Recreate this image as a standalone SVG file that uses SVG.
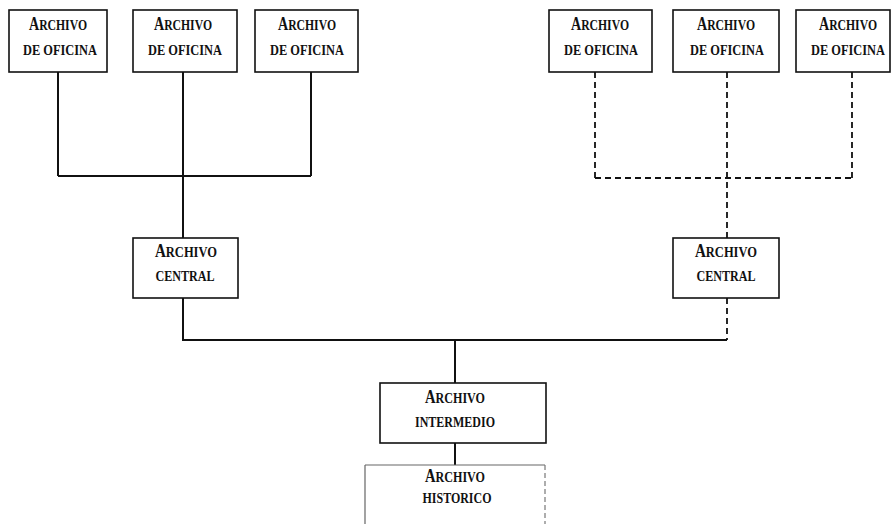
<svg xmlns="http://www.w3.org/2000/svg" width="892" height="524" viewBox="0 0 892 524">
<style>
.box{fill:#fff;stroke:#111;stroke-width:1.6}
.t{font-family:"Liberation Serif",serif;font-weight:bold;font-size:15px;fill:#111;text-anchor:middle}
.big{font-size:18px}
.ln{fill:none;stroke:#111;stroke-width:2}
.dl{fill:none;stroke:#111;stroke-width:1.8;stroke-dasharray:6,4}
</style>
<rect width="892" height="524" fill="#fff"/>
<g id="connectors">
<path class="ln" d="M58,72V176M183,72V238M311,72V176M58,176H311"/>
<path class="ln" d="M183,298V340H727M455,340V383M455,443V465"/>
<path class="dl" d="M595,72V178M727,72V238M852,72V178M595,178H852"/>
<path class="dl" d="M727,298V340"/>
</g>
<g id="of1"><rect class="box" x="9" y="10" width="98" height="62"/>
<text class="t" x="58" y="30" textLength="58" lengthAdjust="spacingAndGlyphs"><tspan class="big">A</tspan>RCHIVO</text>
<text class="t" x="60" y="55" textLength="74" lengthAdjust="spacingAndGlyphs">DE OFICINA</text></g>
<g id="of2"><rect class="box" x="133" y="10" width="104" height="62"/>
<text class="t" x="183" y="30" textLength="58" lengthAdjust="spacingAndGlyphs"><tspan class="big">A</tspan>RCHIVO</text>
<text class="t" x="185" y="55" textLength="74" lengthAdjust="spacingAndGlyphs">DE OFICINA</text></g>
<g id="of3"><rect class="box" x="255" y="10" width="103" height="62"/>
<text class="t" x="307" y="30" textLength="58" lengthAdjust="spacingAndGlyphs"><tspan class="big">A</tspan>RCHIVO</text>
<text class="t" x="307" y="55" textLength="74" lengthAdjust="spacingAndGlyphs">DE OFICINA</text></g>
<g id="of4"><rect class="box" x="549" y="10" width="103" height="62"/>
<text class="t" x="600" y="30" textLength="58" lengthAdjust="spacingAndGlyphs"><tspan class="big">A</tspan>RCHIVO</text>
<text class="t" x="601" y="55" textLength="74" lengthAdjust="spacingAndGlyphs">DE OFICINA</text></g>
<g id="of5"><rect class="box" x="673" y="10" width="106" height="62"/>
<text class="t" x="726" y="30" textLength="58" lengthAdjust="spacingAndGlyphs"><tspan class="big">A</tspan>RCHIVO</text>
<text class="t" x="727" y="55" textLength="74" lengthAdjust="spacingAndGlyphs">DE OFICINA</text></g>
<g id="of6"><rect class="box" x="796" y="10" width="94" height="62"/>
<text class="t" x="848" y="30" textLength="58" lengthAdjust="spacingAndGlyphs"><tspan class="big">A</tspan>RCHIVO</text>
<text class="t" x="848" y="55" textLength="74" lengthAdjust="spacingAndGlyphs">DE OFICINA</text></g>
<g id="cen1"><rect class="box" x="133" y="238" width="105" height="60"/>
<text class="t" x="186" y="257" textLength="62" lengthAdjust="spacingAndGlyphs"><tspan class="big">A</tspan>RCHIVO</text>
<text class="t" x="185" y="281" textLength="59" lengthAdjust="spacingAndGlyphs">CENTRAL</text></g>
<g id="cen2"><rect class="box" x="673" y="238" width="106" height="60"/>
<text class="t" x="726" y="257" textLength="62" lengthAdjust="spacingAndGlyphs"><tspan class="big">A</tspan>RCHIVO</text>
<text class="t" x="726" y="281" textLength="59" lengthAdjust="spacingAndGlyphs">CENTRAL</text></g>
<g id="intermedio"><rect class="box" x="380" y="383" width="166" height="60"/>
<text class="t" x="455" y="403" textLength="60" lengthAdjust="spacingAndGlyphs"><tspan class="big">A</tspan>RCHIVO</text>
<text class="t" x="455" y="427" textLength="80" lengthAdjust="spacingAndGlyphs">INTERMEDIO</text></g>
<g id="historico"><path d="M365,465H545M365,465V524" fill="none" stroke="#666" stroke-width="1.2"/>
<path d="M545,465V524" fill="none" stroke="#777" stroke-width="1.2" stroke-dasharray="5,3"/>
<text class="t" x="455" y="482" textLength="60" lengthAdjust="spacingAndGlyphs"><tspan class="big">A</tspan>RCHIVO</text>
<text class="t" x="457" y="503" textLength="69" lengthAdjust="spacingAndGlyphs">HISTORICO</text></g>
</svg>
